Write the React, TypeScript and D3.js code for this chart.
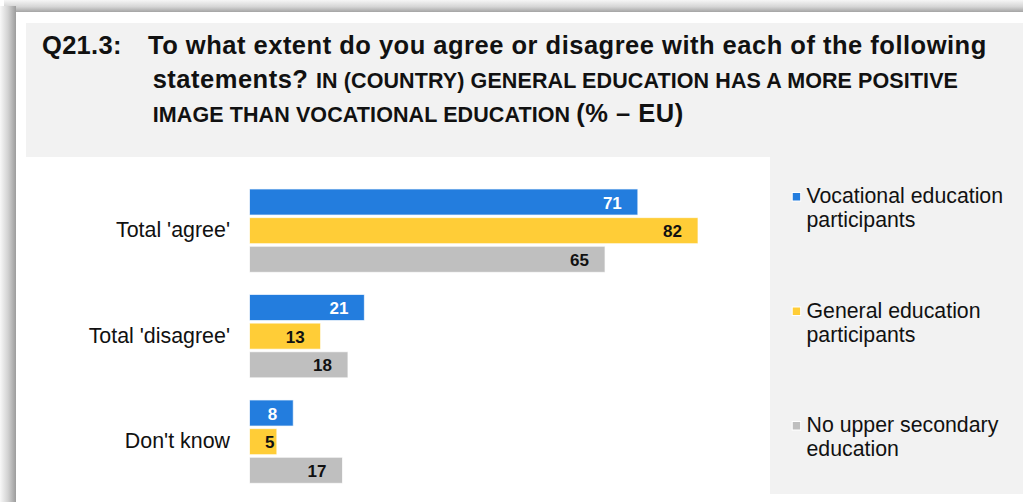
import React from "react";
import * as d3 from "d3";

const categories = ["Total 'agree'", "Total 'disagree'", "Don't know"];
const seriesNames = [
  ["Vocational education", "participants"],
  ["General education", "participants"],
  ["No upper secondary", "education"],
];
const seriesKeys = ["voc", "gen", "none"];
const vocational = [71, 21, 8];
const general = [82, 13, 5];
const noUpper = [65, 18, 17];
const colors = ["#237DDE", "#FFCD37", "#BFBFBF"];
const labelColors = ["#ffffff", "#111111", "#111111"];

const W = 1023;
const H = 502;

export default function App() {
  const values = [vocational, general, noUpper];
  const x = d3.scaleLinear().domain([0, 82]).range([249.5, 698]);
  const y0 = d3
    .scaleBand<string>()
    .domain(categories)
    .range([177.9, 494.4])
    .paddingInner(0.21)
    .paddingOuter(0.105);
  const y1 = d3
    .scaleBand<string>()
    .domain(seriesKeys)
    .range([0, y0.bandwidth()])
    .paddingInner(0.09);

  const legendY = d3.scalePoint<string>().domain(seriesKeys).range([203, 432]);
  const font = "'Liberation Sans', Arial, sans-serif";

  return (
    <svg
      width={W}
      height={H}
      style={{ position: "absolute", left: 0, top: 0, display: "block" }}
      fontFamily={font}
    >
      <defs>
        <linearGradient id="shTop" x1="0" y1="0" x2="0" y2="1">
          <stop offset="0" stopColor="#f6f6f6" />
          <stop offset="0.55" stopColor="#d6d6d6" />
          <stop offset="1" stopColor="#a4a4a4" />
        </linearGradient>
        <linearGradient id="shLeft" x1="0" y1="0" x2="1" y2="0">
          <stop offset="0" stopColor="#f8f8f8" />
          <stop offset="0.5" stopColor="#d2d2d2" />
          <stop offset="1" stopColor="#9c9c9c" />
        </linearGradient>
      </defs>
      <rect x={0} y={0} width={W} height={H} fill="#ffffff" />
      <rect x={4} y={0} width={W - 4} height={12} fill="url(#shTop)" />
      <rect x={0} y={6} width={16} height={H - 6} fill="url(#shLeft)" />
      <rect x={16} y={12} width={W - 16} height={H - 12} fill="#ffffff" />
      {/* title box */}
      <rect x={26} y={23} width={W - 26} height={134} fill="#f2f2f2" />
      {/* legend box */}
      <rect x={770} y={157} width={W - 770} height={337} fill="#f2f2f2" />

      {/* title */}
      <g fill="#111" fontWeight="bold">
        <text x={42} y={53.5} fontSize={25.5} letterSpacing={0.3}>
          Q21.3:
        </text>
        <text x={148} y={53.5} fontSize={25.5} letterSpacing={0.5}>
          To what extent do you agree or disagree with each of the following
        </text>
        <text x={152.7} y={88.3} fontSize={25.5} letterSpacing={0.5}>
          statements?{" "}
          <tspan fontSize={21.5} letterSpacing={0.1}>
            IN (COUNTRY) GENERAL EDUCATION HAS A MORE POSITIVE
          </tspan>
        </text>
        <text x={152.7} y={122.3} fontSize={21.5} letterSpacing={0.1}>
          IMAGE THAN VOCATIONAL EDUCATION{" "}
          <tspan fontSize={25.5} letterSpacing={0.5}>
            (% – EU)
          </tspan>
        </text>
      </g>

      {/* category labels */}
      {categories.map((c) => (
        <text
          key={c}
          x={230}
          y={(y0(c) as number) + y0.bandwidth() / 2 + 6.7}
          textAnchor="end"
          fontSize={21.4}
          fill="#111"
        >
          {c}
        </text>
      ))}

      {/* bars */}
      {categories.map((c, ci) => (
        <g key={c} transform={`translate(0,${y0(c)})`}>
          {seriesKeys.map((k, si) => {
            const v = values[si][ci];
            const by = y1(k) as number;
            const bh = y1.bandwidth();
            const xe = x(v);
            const lx = Math.max(xe - 16, x(0) + 25);
            return (
              <g key={k}>
                <rect
                  x={x(0)}
                  y={by}
                  width={xe - x(0)}
                  height={bh}
                  fill={colors[si]}
                  stroke="#ffffff"
                  strokeOpacity={0.7}
                  strokeWidth={1}
                />
                <text
                  x={lx}
                  y={by + bh / 2 + 6.5}
                  textAnchor="end"
                  fontSize={17}
                  fontWeight="bold"
                  fill={labelColors[si]}
                >
                  {v}
                </text>
              </g>
            );
          })}
        </g>
      ))}

      {/* legend */}
      {seriesKeys.map((k, si) => {
        const ly = legendY(k) as number;
        return (
          <g key={k}>
            <rect
              x={792.2}
              y={ly - 10.5}
              width={8.5}
              height={8.5}
              fill={colors[si]}
              stroke="#ffffff"
              strokeWidth={1}
            />
            <text x={806.5} y={ly} fontSize={21.3} fill="#111">
              <tspan x={806.5}>{seriesNames[si][0]}</tspan>
              <tspan x={806.5} dy={24}>
                {seriesNames[si][1]}
              </tspan>
            </text>
          </g>
        );
      })}
    </svg>
  );
}
